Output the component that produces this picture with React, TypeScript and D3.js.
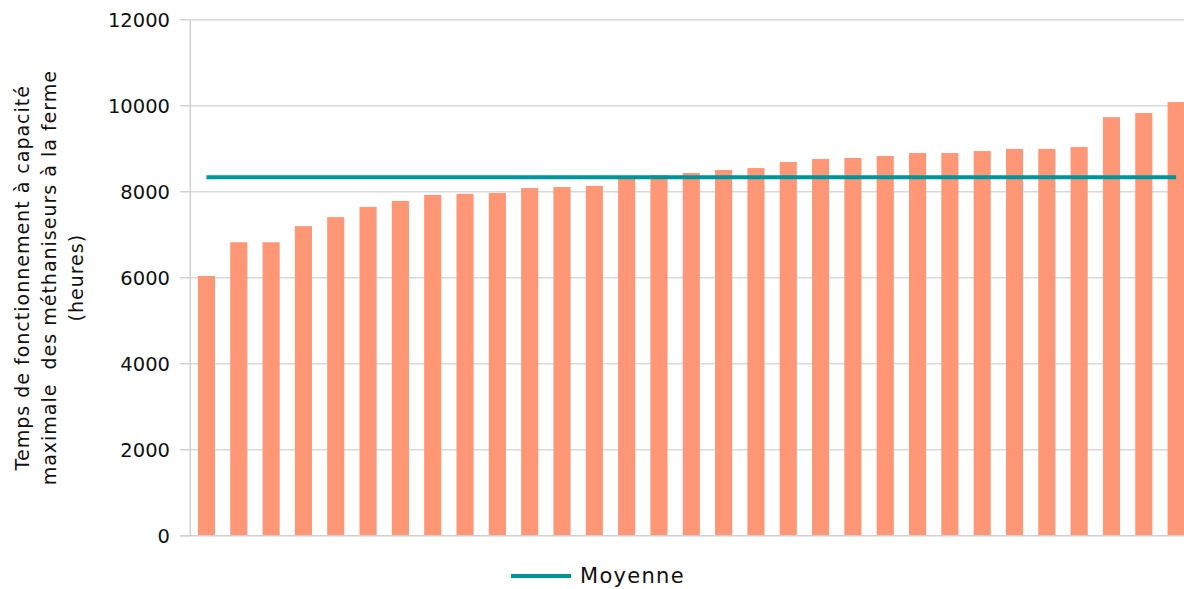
import React from "react";
import * as d3 from "d3";

const hours: number[] = [
  6040, 6825, 6825, 7200, 7410, 7645, 7785, 7925, 7950, 7970,
  8085, 8110, 8135, 8330, 8390, 8435, 8505, 8550, 8690, 8760,
  8785, 8830, 8900, 8900, 8945, 8995, 8995, 9040, 9735, 9830, 10085,
];
const categories: string[] = hours.map((_, i) => `Méthaniseur ${i + 1}`);
const meanValue = 8335;
const yTicks: number[] = [0, 2000, 4000, 6000, 8000, 10000, 12000];
const yTitleLines: string[] = [
  "Temps de fonctionnement à capacité",
  "maximale\u00a0 des méthaniseurs à la ferme",
  "(heures)",
];
const legendLabel = "Moyenne";

const W = 1184;
const H = 589;
const left = 190.3;
const right = 1192.3;
const top = 19.7;
const bottom = 535.7;
const FONT = "'DejaVu Sans', sans-serif";

export default function App() {
  const x = d3
    .scaleBand<string>()
    .domain(categories)
    .range([left, right])
    .paddingInner(0.47)
    .paddingOuter(0.235);
  const y = d3.scaleLinear().domain([0, 12000]).range([bottom, top]);

  const meanLine = d3
    .line<string>()
    .x((c) => (x(c) as number) + x.bandwidth() / 2)
    .y(() => y(meanValue));

  const midY = (top + bottom) / 2;

  return (
    <svg
      width={W}
      height={H}
      style={{ position: "absolute", left: 0, top: 0, background: "#fff" }}
    >
      {yTicks.map((t) => (
        <g key={t}>
          {t > 0 && (
            <line x1={left} x2={W} y1={y(t)} y2={y(t)} stroke="#d9d9d9" strokeWidth={1.5} />
          )}
          <line x1={180} x2={left} y1={y(t)} y2={y(t)} stroke="#d0d0d0" strokeWidth={1.5} />
          <text
            x={170}
            y={y(t)}
            dy="0.36em"
            textAnchor="end"
            fontFamily={FONT}
            fontSize={19.5}
            fill="#111"
          >
            {t}
          </text>
        </g>
      ))}
      {categories.map((c, i) => (
        <rect
          key={c}
          x={x(c)}
          y={y(hours[i])}
          width={x.bandwidth()}
          height={bottom - y(hours[i])}
          fill="#ff9676"
        />
      ))}
      <line x1={180} x2={W} y1={bottom} y2={bottom} stroke="#d0d0d0" strokeWidth={1.5} />
      <line x1={left} x2={left} y1={top} y2={bottom} stroke="#d0d0d0" strokeWidth={1.5} />
      <path d={meanLine(categories) || ""} fill="none" stroke="#00959a" strokeWidth={4} />
      <g transform={`translate(0, ${midY}) rotate(-90)`}>
        {yTitleLines.map((l, i) => (
          <text
            key={i}
            x={0}
            y={29 + i * 27}
            textAnchor="middle"
            fontFamily={FONT}
            fontSize={19}
            letterSpacing={1}
            fill="#111"
          >
            {l}
          </text>
        ))}
      </g>
      <line x1={511} x2={571} y1={576} y2={576} stroke="#00959a" strokeWidth={4} />
      <text x={580} y={583} fontFamily={FONT} fontSize={21} letterSpacing={1.3} fill="#111">
        {legendLabel}
      </text>
    </svg>
  );
}
